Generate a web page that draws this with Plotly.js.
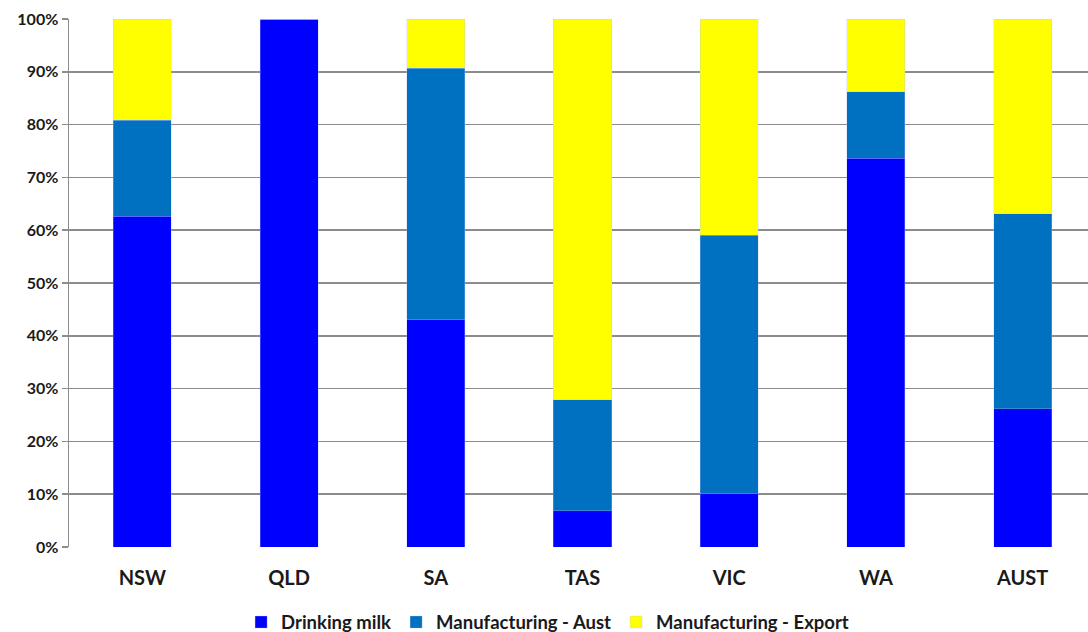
<!DOCTYPE html>
<html>
<head>
<meta charset="utf-8">
<script src="https://cdn.plot.ly/plotly-3.0.1.min.js"></script>
<style>
html,body{margin:0;padding:0;overflow:hidden;background:#fff;}
#chart{width:1096px;height:632px;}
</style>
</head>
<body>
<div id="chart"></div>
<script>
const categories = ["NSW", "QLD", "SA", "TAS", "VIC", "WA", "AUST"];
const drinkingMilk = [62.6, 100, 43.0, 6.9, 10.1, 73.6, 26.2];
const manufAust = [18.2, 0, 47.7, 21.0, 48.9, 12.6, 36.9];
const manufExport = [19.2, 0, 9.3, 72.1, 41.0, 13.8, 36.9];
const yTickVals = [0, 10, 20, 30, 40, 50, 60, 70, 80, 90, 100];
const yTickText = ["0%", "10%", "20%", "30%", "40%", "50%", "60%", "70%", "80%", "90%", "100%"];

const font = {family: "Lato, 'Open Sans', sans-serif", color: "#1a1a1a", weight: 700};

const mk = (name, y, color) => ({
  type: "bar", name: name, x: categories, y: y,
  marker: {color: color, line: {color: "rgba(180,200,255,0.6)", width: 0.5}},
  hoverinfo: "x+y+name"
});

const data = [
  mk("Drinking milk", drinkingMilk, "#0000ff"),
  mk("Manufacturing - Aust", manufAust, "#0070c0"),
  mk("Manufacturing - Export", manufExport, "#ffff00")
];

const layout = {
  width: 1096, height: 632,
  margin: {l: 69, r: 0, t: 19, b: 84.5, autoexpand: false},
  barmode: "stack",
  bargap: 0.604,
  paper_bgcolor: "#fff", plot_bgcolor: "#fff",
  font: font,
  showlegend: true,
  legend: {
    orientation: "h", xref: "paper", x: 0.466, xanchor: "center",
    yref: "container", y: 0.045, yanchor: "top",
    font: Object.assign({}, font, {size: 18.5}),
    traceorder: "normal", itemwidth: 30
  },
  xaxis: {
    type: "category", automargin: false,
    tickfont: Object.assign({}, font, {size: 20}),
    showgrid: false, showline: false, zeroline: false,
    ticks: "outside", ticklen: 13, tickcolor: "rgba(0,0,0,0)"
  },
  yaxis: {
    range: [0, 100], tickvals: yTickVals, ticktext: yTickText, automargin: false,
    tickfont: Object.assign({}, font, {size: 16}),
    showgrid: true, gridcolor: "#8c8c8c", gridwidth: 1.5,
    showline: true, linecolor: "#8c8c8c", linewidth: 1.5,
    ticks: "outside", ticklen: 6, tickcolor: "#8c8c8c", tickwidth: 1.5,
    zeroline: false, fixedrange: true
  }
};

Plotly.newPlot("chart", data, layout, {staticPlot: true, displayModeBar: false});
</script>
</body>
</html>
